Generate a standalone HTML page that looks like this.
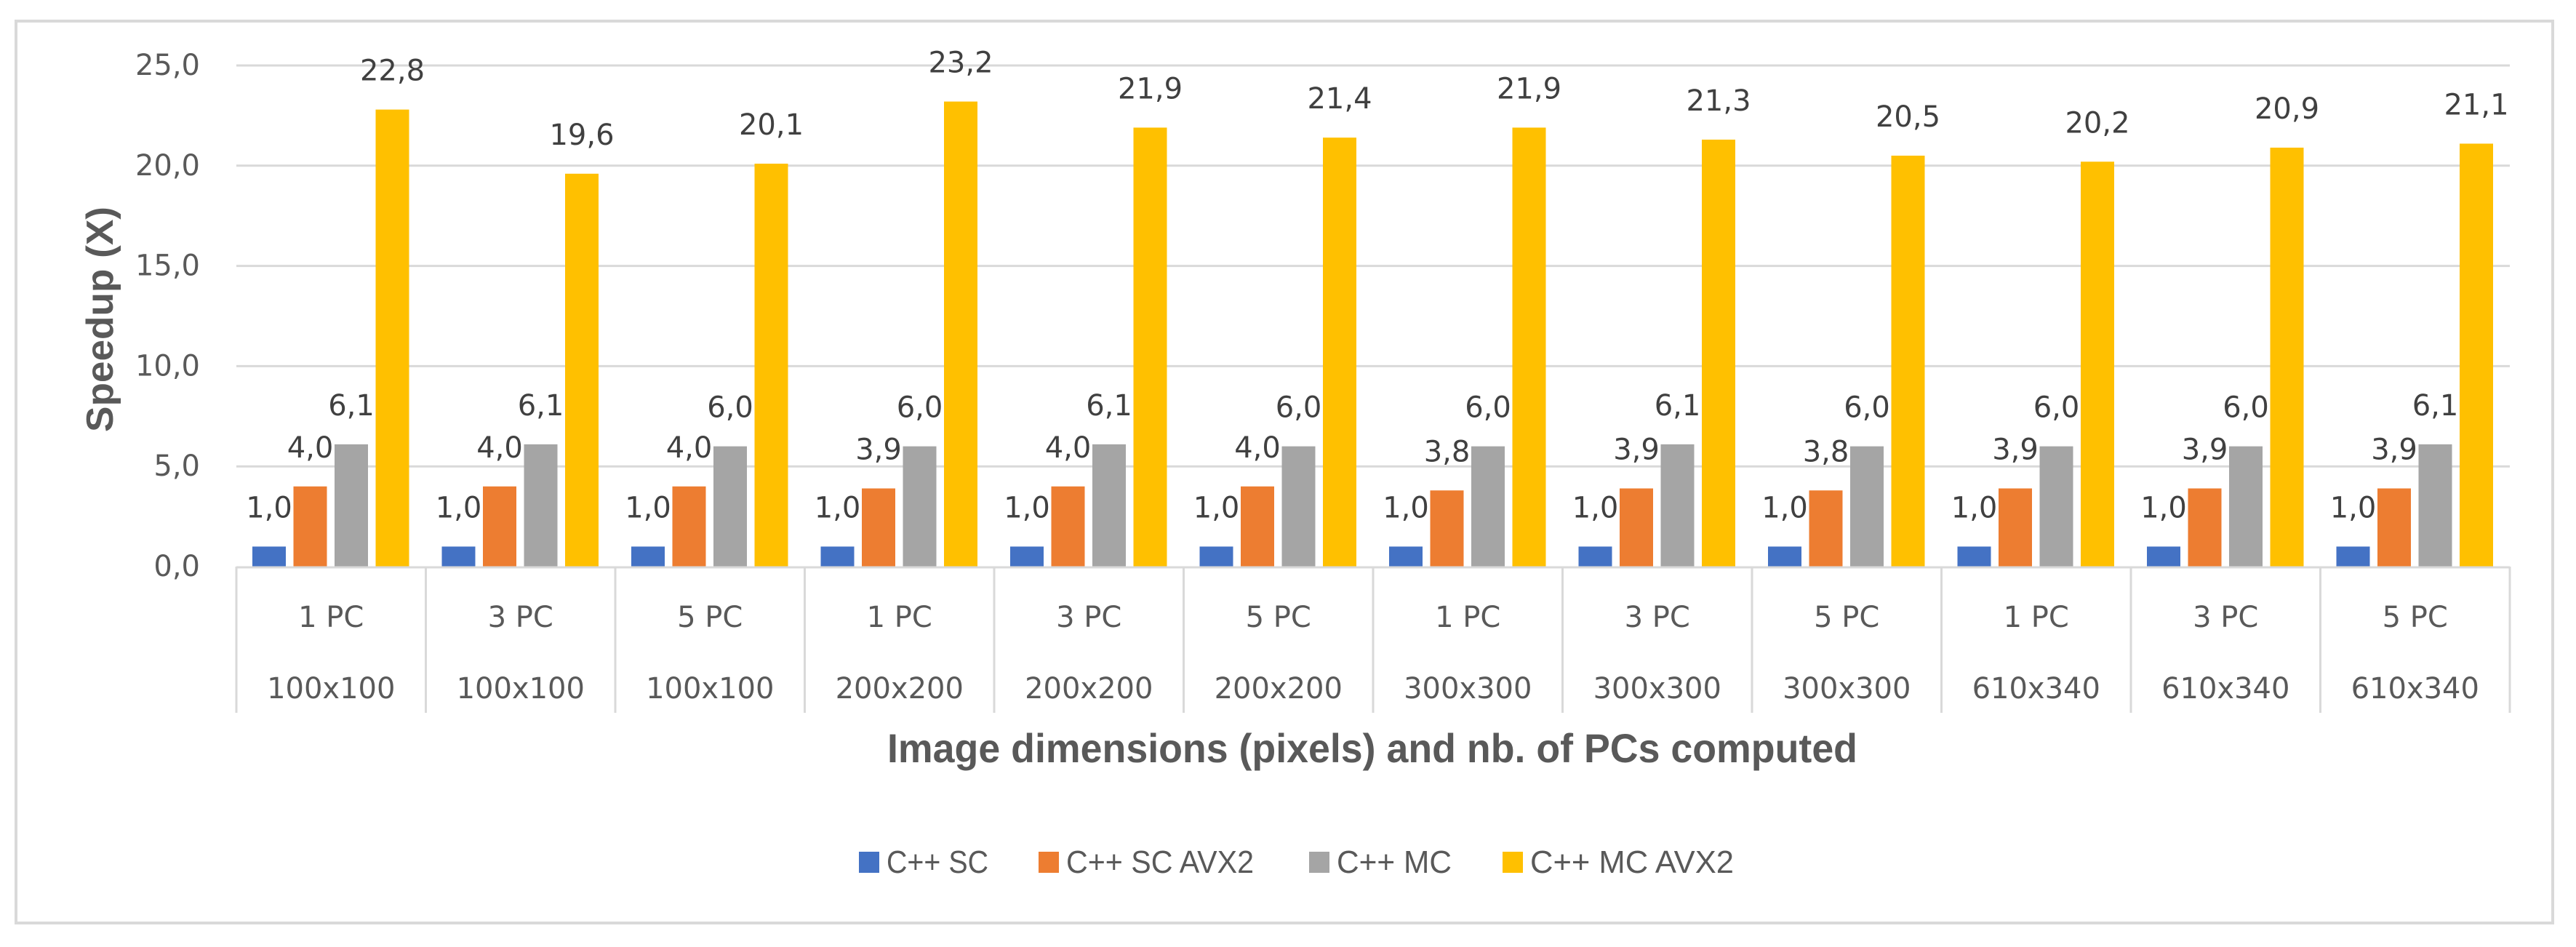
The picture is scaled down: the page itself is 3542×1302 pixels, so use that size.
<!DOCTYPE html>
<html><head><meta charset="utf-8"><style>
html,body{margin:0;padding:0;background:#fff;}
svg{display:block;}
</style></head><body>
<svg id="chart" width="3542" height="1302" viewBox="0 0 3542 1302" xmlns="http://www.w3.org/2000/svg">
<rect x="22" y="29" width="3488" height="1240" fill="#fff" stroke="#d9d9d9" stroke-width="4"/>
<g id="grid"></g>
<g id="yticks"></g>
<g id="bars"></g>
<g id="cats"></g>
<text transform="translate(155,439) rotate(-90)" text-anchor="middle" font-family="'Liberation Sans Narrow','Liberation Sans',sans-serif" font-weight="bold" font-size="52" fill="#595959" textLength="310" lengthAdjust="spacingAndGlyphs">Speedup (X)</text>
<text x="1887" y="1048" text-anchor="middle" font-family="'Liberation Sans Narrow','Liberation Sans',sans-serif" font-weight="bold" font-size="56" fill="#595959" textLength="1334" lengthAdjust="spacingAndGlyphs">Image dimensions (pixels) and nb. of PCs computed</text>
<g id="legend"></g>
</svg>
<script>
const categories = ["1 PC","3 PC","5 PC","1 PC","3 PC","5 PC","1 PC","3 PC","5 PC","1 PC","3 PC","5 PC"];
const dimensions = ["100x100","100x100","100x100","200x200","200x200","200x200","300x300","300x300","300x300","610x340","610x340","610x340"];
const seriesNames = ["C++ SC","C++ SC AVX2","C++ MC","C++ MC AVX2"];
const scValues = [1.0,1.0,1.0,1.0,1.0,1.0,1.0,1.0,1.0,1.0,1.0,1.0];
const scAvx2Values = [4.0,4.0,4.0,3.9,4.0,4.0,3.8,3.9,3.8,3.9,3.9,3.9];
const mcValues = [6.1,6.1,6.0,6.0,6.1,6.0,6.0,6.1,6.0,6.0,6.0,6.1];
const mcAvx2Values = [22.8,19.6,20.1,23.2,21.9,21.4,21.9,21.3,20.5,20.2,20.9,21.1];
const yTicks = [0,5,10,15,20,25];

const NS = "http://www.w3.org/2000/svg";
const colors = ["#4472c4","#ed7d31","#a5a5a5","#ffc000"];
const series = [scValues, scAvx2Values, mcValues, mcAvx2Values];
const plotL = 325, plotR = 3451, y0 = 779, y25 = 90, yMax = 25;
const catW = (plotR - plotL) / categories.length;
const yScale = v => y0 - (v / yMax) * (y0 - y25);
const xCat = i => plotL + i * catW;
const fmt = v => v.toFixed(1).replace('.', ',');
function mk(tag, attrs, parent, text) {
  const e = document.createElementNS(NS, tag);
  for (const k in attrs) e.setAttribute(k, attrs[k]);
  if (text !== undefined) e.textContent = text;
  parent.appendChild(e);
  return e;
}
const grid = document.getElementById('grid');
const yt = document.getElementById('yticks');
yTicks.forEach(t => {
  const y = yScale(t);
  if (t !== 0) {
    const l = mk('line', {x1: plotL, x2: plotR, y1: y, y2: y, stroke: '#d9d9d9', 'stroke-width': 3}, grid);
    
    
  }
  const tx = mk('text', {x: 275, y: y, 'text-anchor': 'end', 'dominant-baseline': 'central', 'font-family': "'DejaVu Sans',sans-serif", 'font-size': 40, fill: '#595959'}, yt, fmt(t));
  
  
});
const bars = document.getElementById('bars');
const barW = 46, step = 56.5, off = 22;
series.forEach((vals, s) => {
  vals.forEach((v, i) => {
    const x = xCat(i) + off + s * step;
    const top = yScale(v);
    const r = mk('rect', {x: x, y: top, width: barW, height: y0 - top, fill: colors[s]}, bars);
    
    
    const t = mk('text', {x: x + barW / 2, y: top - 53, 'text-anchor': 'middle', 'dominant-baseline': 'central', 'font-family': "'DejaVu Sans',sans-serif", 'font-size': 40, fill: '#404040'}, bars, fmt(v));
    
    
  });
});
const cats = document.getElementById('cats');
const ax = mk('line', {x1: plotL, x2: plotR, y1: y0 + 1, y2: y0 + 1, stroke: '#d9d9d9', 'stroke-width': 3}, cats);


for (let i = 0; i <= categories.length; i++) {
  const x = xCat(i);
  const l = mk('line', {x1: x, x2: x, y1: y0, y2: 980, stroke: '#d9d9d9', 'stroke-width': 3}, cats);
  
  
}
categories.forEach((c, i) => {
  const cx = xCat(i) + catW / 2;
  const a = mk('text', {x: cx, y: 849, 'text-anchor': 'middle', 'dominant-baseline': 'central', 'font-family': "'DejaVu Sans',sans-serif", 'font-size': 40, fill: '#595959'}, cats, c);
  
  
  const b = mk('text', {x: cx, y: 947, 'text-anchor': 'middle', 'dominant-baseline': 'central', 'font-family': "'DejaVu Sans',sans-serif", 'font-size': 40, fill: '#595959'}, cats, dimensions[i]);
  
  
});
const legend = document.getElementById('legend');
const legX = [1181, 1428, 1800, 2066];
const legTW = [140, 258, 158, 280];
seriesNames.forEach((n, s) => {
  const g = mk('g', {}, legend);
  
  
  mk('rect', {x: legX[s], y: 1171, width: 28, height: 29, fill: colors[s]}, g);
  mk('text', {x: legX[s] + 38, y: 1200, 'font-family': "'Liberation Sans Narrow','Liberation Sans',sans-serif", 'font-size': 44, fill: '#595959', textLength: legTW[s], lengthAdjust: 'spacingAndGlyphs'}, g, n);
});
</script>
</body></html>
